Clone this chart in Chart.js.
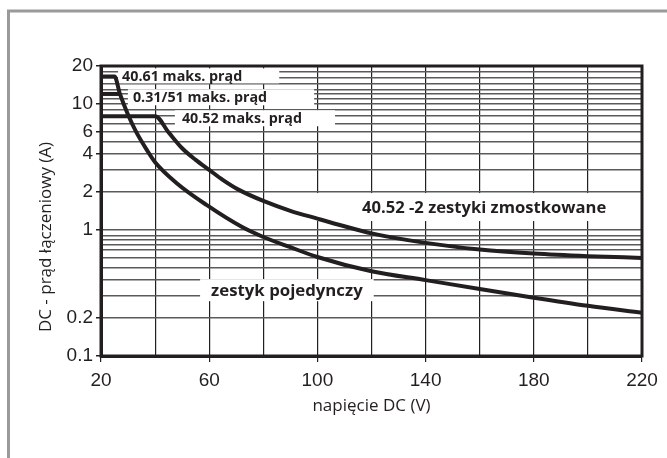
<!DOCTYPE html>
<html>
<head>
<meta charset="utf-8">
<script src="https://cdn.jsdelivr.net/npm/chart.js@4.4.1/dist/chart.umd.min.js"></script>
<style>
  html, body { margin: 0; padding: 0; background: #fff; }
</style>
</head>
<body>
<canvas id="wykres" width="667" height="458"></canvas>
<script>
// DANE (napięcie DC w V, prąd w A)
const napiecieJeden = [20, 25, 27, 30, 33, 37, 40, 48, 59, 72, 80, 90, 100, 120, 140, 160, 180, 200, 220];
const pradJeden = [16.5, 16.5, 12, 8.2, 6, 4.3, 3.45, 2.35, 1.58, 1.06, 0.88, 0.73, 0.61, 0.47, 0.40, 0.34, 0.29, 0.25, 0.22];

const napiecieMost = [20, 40, 45, 50, 55, 60, 65, 71, 80, 90, 100, 110, 120, 140, 160, 180, 200, 220];
const pradMost = [8, 8, 5.95, 4.45, 3.6, 3.0, 2.5, 2.08, 1.70, 1.42, 1.23, 1.07, 0.94, 0.79, 0.70, 0.65, 0.62, 0.60];

const napiecie3151 = [20, 27];
const prad3151 = [12, 12];

// OSIE
const xEtykiety = [20, 60, 100, 140, 180, 220];
const yEtykiety = [0.1, 0.2, 1, 2, 4, 6, 10, 20];
const ySiatka = [0.1, 0.2, 0.3, 0.4, 0.5, 0.6, 0.7, 0.76, 0.83, 0.9, 1, 2, 3, 4, 5, 6, 7, 8, 9, 10, 11, 12, 13, 14.5, 16, 18, 20];

const CZARNY = '#231f20';

// napisy na wykresie (kotwica w jednostkach osi)
const napisy = [
  { tekst: '40.61 maks. prąd', v: 27.8, a: 16.7, lewo: 4, prawo: 37, wys: 15, font: 'bold 14.3px "Open Sans"' },
  { tekst: '0.31/51 maks. prąd', v: 31.8, a: 11.3, lewo: 5, prawo: 47, wys: 16, font: 'bold 14.3px "Open Sans"' },
  { tekst: '40.52 maks. prąd', v: 49.9, a: 7.7, lewo: 7, prawo: 33, wys: 16, font: 'bold 14.3px "Open Sans"' },
  { tekst: '40.52 -2 zestyki zmostkowane', v: 116.5, a: 1.52, lewo: 50, prawo: 12, wys: 28, font: 'bold 16.6px "Open Sans"' },
  { tekst: 'zestyk pojedynczy', v: 60.7, a: 0.333, lewo: 11, prawo: 11, wys: 22, font: 'bold 16.8px "Open Sans"' }
];

const punkty = (xs, ys) => xs.map((x, i) => ({ x: x, y: ys[i] }));

// tło, szara ramka strony i tytuł osi Y
const tloPlugin = {
  id: 'tlo',
  beforeDraw(chart) {
    const ctx = chart.ctx;
    ctx.save();
    ctx.fillStyle = '#fff';
    ctx.fillRect(0, 0, chart.width, chart.height);
    ctx.strokeStyle = '#9a9a9a';
    ctx.lineWidth = 3;
    ctx.beginPath();
    ctx.moveTo(8.5, chart.height);
    ctx.lineTo(8.5, 11);
    ctx.lineTo(chart.width, 11);
    ctx.stroke();

    ctx.translate(46.5, 237);
    ctx.rotate(-Math.PI / 2);
    ctx.fillStyle = CZARNY;
    ctx.font = '17px "Open Sans"';
    ctx.textAlign = 'center';
    ctx.textBaseline = 'middle';
    ctx.fillText('DC - prąd łączeniowy (A)', 0, 0);
    ctx.restore();
  }
};

// białe pola z opisami (pod krzywymi)
const napisyPlugin = {
  id: 'napisy',
  beforeDatasetsDraw(chart) {
    const ctx = chart.ctx;
    const sx = chart.scales.x;
    const sy = chart.scales.y;
    ctx.save();
    napisy.forEach(n => {
      const px = sx.getPixelForValue(n.v);
      const py = sy.getPixelForValue(n.a);
      ctx.font = n.font;
      const w = ctx.measureText(n.tekst).width;
      ctx.fillStyle = '#fff';
      ctx.fillRect(px - n.lewo, py - n.wys / 2, w + n.lewo + n.prawo, n.wys);
      ctx.fillStyle = CZARNY;
      ctx.textBaseline = 'middle';
      ctx.fillText(n.tekst, px, py + 1);
    });
    ctx.restore();
  }
};

// gruba ramka obszaru wykresu
const ramkaPlugin = {
  id: 'ramka',
  afterDatasetsDraw(chart) {
    const { ctx, chartArea: a } = chart;
    ctx.save();
    ctx.strokeStyle = CZARNY;
    ctx.lineWidth = 3;
    ctx.strokeRect(a.left, a.top, a.right - a.left, a.bottom - a.top);
    ctx.restore();
  }
};

const wspolne = {
  borderColor: CZARNY,
  borderWidth: 4,
  pointRadius: 0,
  fill: false,
  cubicInterpolationMode: 'monotone'
};

new Chart(document.getElementById('wykres').getContext('2d'), {
  type: 'line',
  data: {
    datasets: [
      Object.assign({ label: 'zestyk pojedynczy', data: punkty(napiecieJeden, pradJeden) }, wspolne),
      Object.assign({ label: '40.52 -2 zestyki zmostkowane', data: punkty(napiecieMost, pradMost) }, wspolne),
      Object.assign({ label: '0.31/51 maks. prąd', data: punkty(napiecie3151, prad3151) }, wspolne)
    ]
  },
  options: {
    responsive: false,
    devicePixelRatio: 1,
    animation: false,
    layout: { padding: { left: 10, top: 66, right: 25, bottom: 40 } },
    plugins: {
      legend: { display: false },
      tooltip: { enabled: false }
    },
    scales: {
      x: {
        type: 'linear',
        min: 20,
        max: 220,
        afterFit: s => { s.height = 62; },
        ticks: {
          stepSize: 20,
          autoSkip: false,
          maxRotation: 0,
          padding: 7,
          color: CZARNY,
          font: { family: '"Liberation Sans"', size: 19 },
          callback: v => xEtykiety.includes(v) ? String(v) : ''
        },
        grid: {
          color: CZARNY,
          lineWidth: 1.2,
          tickLength: 6,
          tickColor: c => (c.tick && xEtykiety.includes(c.tick.value)) ? CZARNY : 'rgba(0,0,0,0)'
        },
        border: { display: true, color: CZARNY, width: 3 },
        title: {
          display: true,
          text: 'napięcie DC (V)',
          color: CZARNY,
          font: { family: '"Open Sans"', size: 17 },
          padding: { top: 0, bottom: 2 }
        }
      },
      y: {
        type: 'logarithmic',
        min: 0.1,
        max: 20,
        afterFit: s => { s.width = 91; },
        afterBuildTicks: s => { s.ticks = ySiatka.map(v => ({ value: v })); },
        ticks: {
          autoSkip: false,
          padding: 3,
          color: CZARNY,
          font: { family: '"Liberation Sans"', size: 19 },
          callback: v => yEtykiety.includes(v) ? String(v) : ''
        },
        grid: {
          color: '#5a5a5a',
          lineWidth: 1.5,
          tickLength: 5,
          tickColor: c => (c.tick && yEtykiety.includes(c.tick.value)) ? CZARNY : 'rgba(0,0,0,0)'
        },
        border: { display: true, color: CZARNY, width: 3 }
      }
    }
  },
  plugins: [tloPlugin, napisyPlugin, ramkaPlugin]
});
</script>
</body>
</html>
